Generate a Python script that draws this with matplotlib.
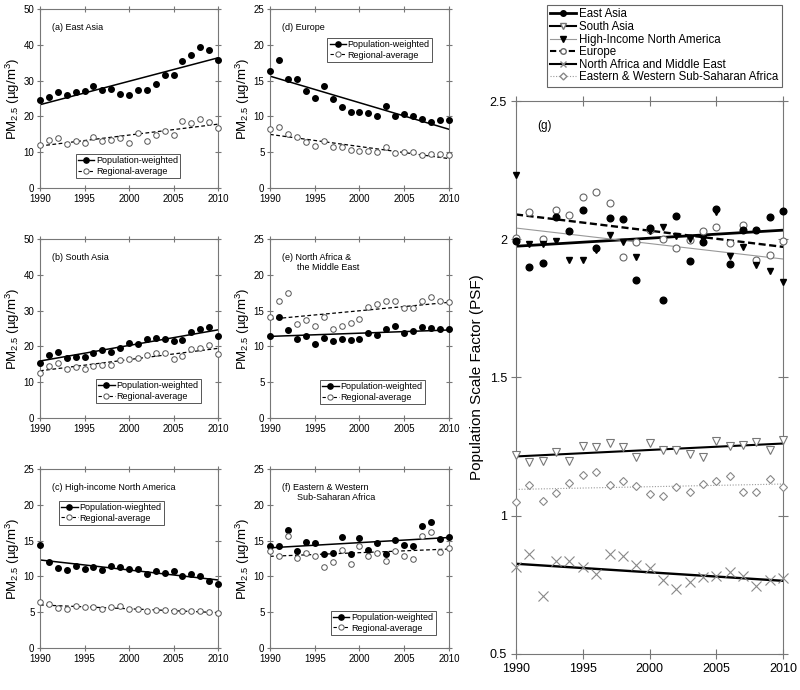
import numpy as np
import matplotlib
matplotlib.use("Agg")
import matplotlib.pyplot as plt
import matplotlib.ticker as mticker
from matplotlib.lines import Line2D

plt.rcParams["font.family"] = ["Liberation Sans", "DejaVu Sans"]
plt.rcParams["mathtext.fontset"] = "custom"
plt.rcParams["mathtext.rm"] = "Liberation Sans"
plt.rcParams["mathtext.it"] = "Liberation Sans:italic"

years = np.arange(1990, 2011)

# --------- PM2.5 (ug/m3): population-weighted vs regional-average ---------

ea_pw = [24.5, 25.5, 26.9, 25.9, 26.8, 27.1, 28.5, 27.5, 27.7, 26.3, 26.0,
         27.3, 27.3, 29.0, 31.7, 31.5, 35.6, 37.3, 39.5, 38.5, 35.9]
ea_ra = [12.1, 13.3, 14.0, 12.3, 13.0, 12.7, 14.3, 13.2, 13.3, 14.1, 12.7,
         15.4, 13.1, 14.9, 15.9, 14.8, 18.7, 18.2, 19.3, 18.4, 16.9]

eu_pw = [16.4, 17.9, 15.25, 15.2, 13.5, 12.6, 14.2, 12.4, 11.3, 10.6, 10.6,
         10.5, 10.1, 11.4, 10.0, 10.35, 10.1, 9.6, 9.2, 9.5, 9.55]
eu_ra = [8.2, 8.5, 7.5, 7.1, 6.4, 5.9, 6.5, 5.8, 5.8, 5.3, 5.2,
         5.2, 5.1, 5.7, 4.85, 5.0, 5.0, 4.65, 4.7, 4.75, 4.65]

sa_pw = [15.3, 17.5, 18.3, 16.8, 17.1, 17.1, 18.1, 19.0, 18.3, 19.6, 20.9,
         20.7, 22.1, 22.3, 22.1, 21.4, 21.8, 24.1, 24.9, 25.5, 22.8]
sa_ra = [12.7, 14.6, 15.3, 13.6, 14.3, 13.7, 14.5, 14.9, 14.7, 16.1, 16.6,
         16.8, 17.6, 18.1, 18.2, 16.5, 17.3, 19.3, 19.6, 20.4, 17.9]

nafme_pw = [11.5, 14.1, 12.3, 11.1, 11.45, 10.4, 11.2, 10.7, 11.0, 10.85, 11.1,
            11.9, 11.6, 12.4, 12.8, 11.9, 12.2, 12.75, 12.6, 12.4, 12.5]
nafme_ra = [14.1, 16.4, 17.4, 13.1, 13.7, 12.85, 14.15, 12.4, 12.9, 13.2, 13.8,
            15.5, 15.9, 16.3, 16.4, 15.3, 15.3, 16.4, 16.9, 16.3, 16.25]

hina_pw = [14.4, 12.0, 11.2, 10.9, 11.4, 11.0, 11.3, 10.9, 11.4, 11.3, 11.05,
           11.0, 10.35, 10.8, 10.5, 10.7, 10.0, 10.3, 10.0, 9.4, 8.95]
hina_ra = [6.4, 6.1, 5.6, 5.5, 5.9, 5.7, 5.75, 5.4, 5.7, 5.8, 5.4,
           5.4, 5.2, 5.35, 5.3, 5.1, 5.1, 5.2, 5.2, 5.0, 4.9]

ssa_pw = [14.3, 14.2, 16.5, 13.5, 14.8, 14.7, 13.15, 13.3, 15.5, 13.15, 15.4,
          13.7, 14.6, 13.15, 15.1, 14.4, 14.2, 17.0, 17.6, 15.2, 15.5]
ssa_ra = [13.6, 12.8, 15.6, 12.5, 13.25, 12.8, 11.3, 12.0, 13.7, 11.75, 14.3,
          12.8, 13.2, 12.1, 13.5, 12.8, 12.45, 15.6, 16.2, 13.35, 13.95]

# --------- Population scale factor (PSF) ---------

psf_ea = [1.993, 1.90, 1.914, 2.081, 2.03, 2.105, 1.97, 2.076, 2.072, 1.854, 2.04,
          1.779, 2.083, 1.92, 1.99, 2.11, 1.912, 2.033, 2.035, 2.081, 2.103]
psf_sa = [1.22, 1.193, 1.199, 1.232, 1.197, 1.252, 1.247, 1.264, 1.25, 1.214, 1.262,
          1.236, 1.238, 1.223, 1.214, 1.269, 1.251, 1.256, 1.266, 1.238, 1.274]
psf_hina = [2.232, 1.982, 1.982, 1.994, 1.926, 1.926, 1.96, 2.016, 1.99, 1.937, 2.03,
            2.045, 2.01, 2.0, 2.0, 2.10, 1.938, 1.972, 1.906, 1.884, 1.845]
psf_eu = [2.005, 2.097, 2.0, 2.105, 2.087, 2.153, 2.171, 2.132, 1.937, 1.99, 2.033,
          2.002, 1.969, 1.996, 2.03, 2.045, 1.987, 2.051, 1.926, 1.942, 1.994]
psf_nafme = [0.814, 0.862, 0.711, 0.838, 0.835, 0.814, 0.789, 0.862, 0.853, 0.822, 0.81,
             0.768, 0.734, 0.762, 0.78, 0.783, 0.798, 0.783, 0.746, 0.766, 0.774]
psf_ssa = [1.05, 1.11, 1.055, 1.082, 1.117, 1.149, 1.159, 1.112, 1.127, 1.109, 1.079,
           1.07, 1.104, 1.086, 1.116, 1.127, 1.142, 1.086, 1.086, 1.134, 1.105]

FRAME = "#777777"
ends = years[[0, -1]]


def trend(ax, y, **kw):
    coef = np.polyfit(years, y, 1)
    ax.plot(ends, np.polyval(coef, ends), **kw)


def style_axes(ax, labelsize, pad):
    for s in ax.spines.values():
        s.set_color(FRAME)
    ax.tick_params(direction="inout", top=True, right=True, color=FRAME,
                   labelsize=labelsize, length=5, pad=pad)
    ax.set_xlim(1990, 2010)
    ax.xaxis.set_major_locator(mticker.MultipleLocator(5))


fig = plt.figure(figsize=(8, 6.9), dpi=100)

# --------- small PM2.5 panels ---------

panels = [
    # rect, pw, ra, ymax, title, pw label, legend loc, anchor
    ([0.05, 0.7275, 0.2225, 0.2594], ea_pw, ea_ra, 50, "(a) East Asia",
     "Population-weighted", "lower left", (0.2, 0.056)),
    ([0.3375, 0.7275, 0.2237, 0.2594], eu_pw, eu_ra, 25, "(d) Europe",
     "Population-weighted", "upper right", (0.905, 0.838)),
    ([0.05, 0.3942, 0.2225, 0.2594], sa_pw, sa_ra, 50, "(b) South Asia",
     "Population-weighted", "lower left", (0.315, 0.084)),
    ([0.3375, 0.3942, 0.2237, 0.2594], nafme_pw, nafme_ra, 25,
     "(e) North Africa &\n      the Middle East",
     "Population-weighted", "lower left", (0.28, 0.078)),
    ([0.05, 0.0609, 0.2225, 0.2594], hina_pw, hina_ra, 25,
     "(c) High-income North America",
     "Population-wieghted", "upper left", (0.107, 0.821)),
    ([0.3375, 0.0609, 0.2237, 0.2594], ssa_pw, ssa_ra, 25,
     "(f) Eastern & Western\n      Sub-Saharan Africa",
     "Population-weighted", "lower left", (0.34, 0.073)),
]

for rect, pw, ra, ymax, title, pw_label, loc, anchor in panels:
    ax = fig.add_axes(rect)
    trend(ax, pw, color="black", lw=1.1)
    trend(ax, ra, color="black", lw=0.9, ls=(0, (3, 2)))
    ax.plot(years, pw, "o", color="black", ms=4, clip_on=False, zorder=3)
    ax.plot(years, ra, "o", mfc="white", mec="#555555", mew=0.7, ms=4,
            clip_on=False, zorder=3)
    style_axes(ax, 7, 1.5)
    ax.set_ylim(0, ymax)
    ax.yaxis.set_major_locator(mticker.MultipleLocator(ymax / 5))
    ax.set_ylabel("PM$_{2.5}$ (µg/m$^3$)", fontsize=9.5, labelpad=1)
    ax.text(0.065, 0.92, title, transform=ax.transAxes, fontsize=6.5,
            va="top", ha="left", linespacing=1.1)
    handles = [
        Line2D([], [], color="black", lw=1, marker="o", ms=3.8),
        Line2D([], [], color="black", lw=0.8, ls=(0, (3, 2)), marker="o",
               ms=3.8, mfc="white", mec="#555555", mew=0.7),
    ]
    leg = ax.legend(handles, [pw_label, "Regional-average"], loc=loc,
                    bbox_to_anchor=anchor, fontsize=6.5, fancybox=False,
                    edgecolor="#555555", framealpha=1, borderpad=0.25,
                    labelspacing=0.15, handlelength=1.8, handletextpad=0.2,
                    borderaxespad=0)
    leg.get_frame().set_linewidth(0.7)

# --------- PSF panel (g) ---------

ax = fig.add_axes([0.645, 0.0522, 0.334, 0.8014])

trend(ax, psf_ea, color="black", lw=2.0)
trend(ax, psf_sa, color="black", lw=1.5)
trend(ax, psf_hina, color="#999999", lw=0.8)
trend(ax, psf_eu, color="black", lw=1.7, ls=(0, (3, 1.5)))
trend(ax, psf_nafme, color="black", lw=1.7)
trend(ax, psf_ssa, color="#999999", lw=0.8, ls=(0, (1, 1.5)))

mk = dict(ls="none", clip_on=False, zorder=3)
ax.plot(years, psf_sa, "v", mfc="white", mec="#777777", mew=0.8, ms=5.5, **mk)
ax.plot(years, psf_ssa, "D", mfc="white", mec="#888888", mew=0.8, ms=4, **mk)
ax.plot(years, psf_nafme, "x", color="#888888", mew=0.8, ms=6.5, **mk)
ax.plot(years, psf_eu, "o", mfc="white", mec="#666666", mew=0.8, ms=5, **mk)
ax.plot(years, psf_hina, "v", color="black", ms=5, **mk)
ax.plot(years, psf_ea, "o", color="black", ms=4.8, **mk)

style_axes(ax, 9, 3)
ax.set_ylim(0.5, 2.5)
ax.yaxis.set_major_locator(mticker.MultipleLocator(0.5))
ax.yaxis.set_major_formatter(mticker.FuncFormatter(lambda v, p: "%g" % v))
ax.tick_params(length=7)
ax.set_ylabel("Population Scale Factor (PSF)", fontsize=11, labelpad=4)
ax.text(0.08, 0.955, "(g)", transform=ax.transAxes, fontsize=8.5,
        va="center", ha="left")

g_handles = [
    Line2D([], [], color="black", lw=2.0, marker="o", ms=4),
    Line2D([], [], color="black", lw=1.5, marker="v", ms=4.5, mfc="white",
           mec="#777777"),
    Line2D([], [], color="#999999", lw=0.8, marker="v", ms=4.5, mfc="black",
           mec="black"),
    Line2D([], [], color="black", lw=1.5, ls=(0, (3, 1.5)), marker="o", ms=4,
           mfc="white", mec="#666666"),
    Line2D([], [], color="black", lw=1.5, marker="x", ms=5, mec="#888888"),
    Line2D([], [], color="#999999", lw=0.8, ls=(0, (1, 1.5)), marker="D",
           ms=3.5, mfc="white", mec="#888888"),
]
g_labels = ["East Asia", "South Asia", "High-Income North America", "Europe",
            "North Africa and Middle East", "Eastern & Western Sub-Saharan Africa"]
leg = fig.legend(g_handles, g_labels, loc="upper left",
                 bbox_to_anchor=(547 / 800, 1 - 5 / 690), fontsize=8.3,
                 fancybox=False, edgecolor="#666666", framealpha=1,
                 borderpad=0.3, labelspacing=0.05, handlelength=2.2,
                 handletextpad=0.3, borderaxespad=0)
leg.get_frame().set_linewidth(0.8)

fig.savefig("out.png", dpi=100)
